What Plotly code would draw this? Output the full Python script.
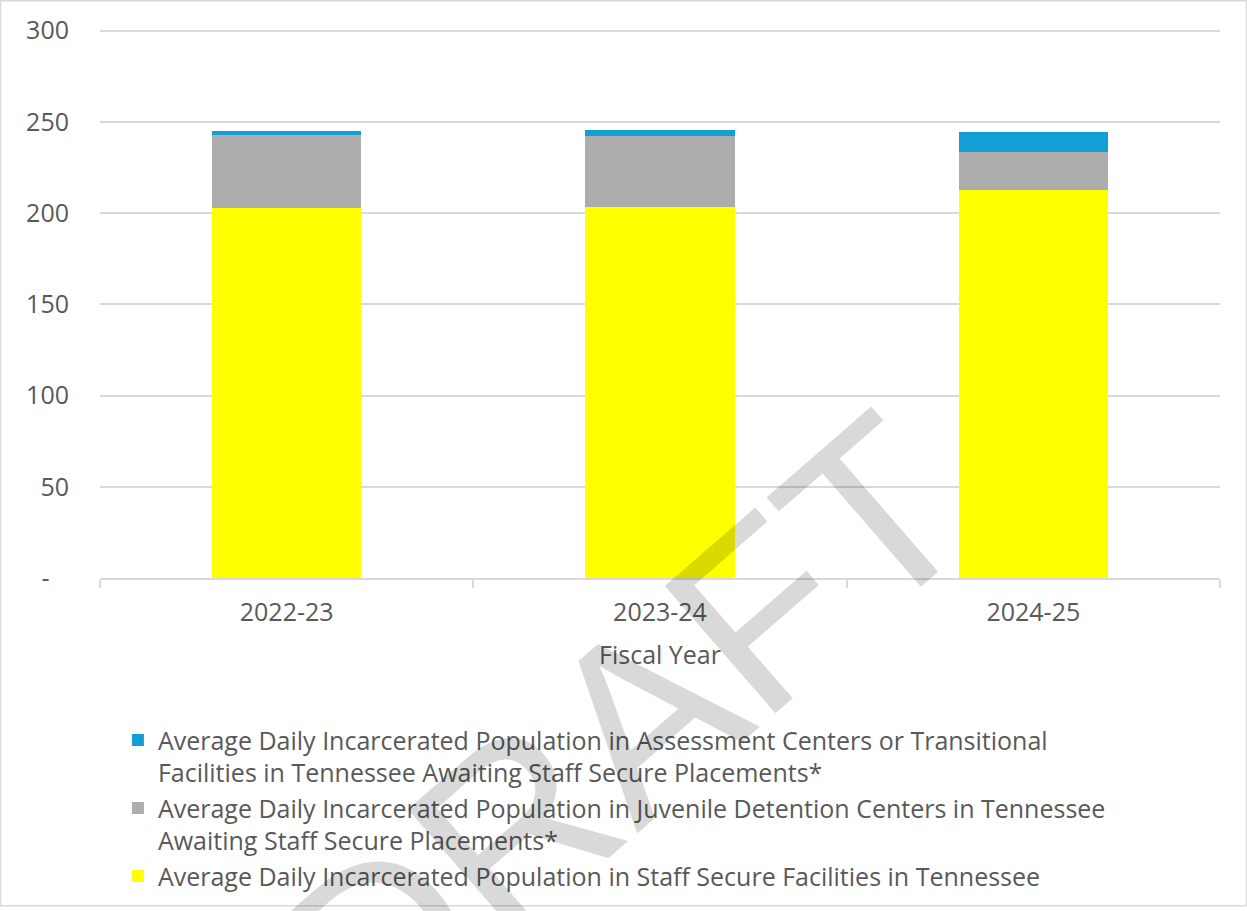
import plotly.graph_objects as go

years = ["2022-23", "2023-24", "2024-25"]
staff_secure = [203, 203.5, 212.5]
detention = [39.7, 38.9, 21.0]
assessment = [2.2, 3.4, 11.2]

y_tickvals = [0, 50, 100, 150, 200, 250, 300]
y_ticktext = ["-\u00a0\u00a0\u00a0", "50", "100", "150", "200", "250", "300"]

names = [
    "Average Daily Incarcerated Population in Staff Secure Facilities in Tennessee",
    "Average Daily Incarcerated Population in Juvenile Detention Centers in Tennessee<br>Awaiting Staff Secure Placements*",
    "Average Daily Incarcerated Population in Assessment Centers or Transitional<br>Facilities in Tennessee Awaiting Staff Secure Placements*",
]
colors = ["#FFFF00", "#ADADAD", "#139FD6"]

FONT = "Open Sans"
TXT = "#595959"

W, H = 1247, 911
L, R, T, B = 100, 27, 27, 330
PW, PH = W - L - R, H - T - B

fig = go.Figure()
for vals, name, col in zip([staff_secure, detention, assessment], names, colors):
    fig.add_trace(go.Bar(x=years, y=vals, name=name, marker=dict(color=col, line=dict(width=0))))

fig.update_layout(
    width=W, height=H,
    barmode="stack", bargap=0.6,
    paper_bgcolor="white", plot_bgcolor="white",
    margin=dict(l=L, r=R, t=T, b=B),
    font=dict(family=FONT, color=TXT, size=25),
    showlegend=True,
    legend=dict(
        traceorder="reversed", orientation="v",
        x=0.016, xanchor="left", y=-140 / PH, yanchor="top",
        font=dict(family=FONT, size=25, color=TXT),
        valign="top", itemclick=False, tracegroupgap=0,
    ),
    xaxis=dict(
        title=dict(text="Fiscal Year", font=dict(size=25, color=TXT), standoff=20),
        tickfont=dict(size=25, color=TXT),
        showline=True, linecolor="#D9D9D9", linewidth=1.5,
        ticks="outside", tickson="boundaries", ticklen=8, tickcolor="#D9D9D9", tickwidth=1.5,
        ticklabelstandoff=11,
        showgrid=False,
    ),
    yaxis=dict(
        range=[0, 302], tickvals=y_tickvals, ticktext=y_ticktext,
        tickfont=dict(size=25, color=TXT),
        showgrid=True, gridcolor="#D9D9D9", gridwidth=1.5,
        zeroline=False, showline=False, ticks="", ticklabelstandoff=30,
    ),
    shapes=[dict(
        type="rect", xref="paper", yref="paper",
        x0=(0.5 - L) / PW, x1=(W - 0.5 - L) / PW,
        y0=((H - B) - (H - 0.5)) / PH, y1=((H - B) - 0.5) / PH,
        line=dict(color="#D9D9D9", width=1.5), fillcolor="rgba(0,0,0,0)", layer="below",
    )],
    annotations=[dict(
        text="DRAFT", xref="paper", yref="paper",
        x=(622 - L) / PW, y=((H - B) - 738) / PH,
        xanchor="center", yanchor="middle", showarrow=False, textangle=-41,
        font=dict(family="Liberation Sans", size=245, color="rgba(0,0,0,0.15)"),
    )],
)

fig.write_html("out.html", config={"displayModeBar": False},
               post_script="document.body.style.margin='0px';")
